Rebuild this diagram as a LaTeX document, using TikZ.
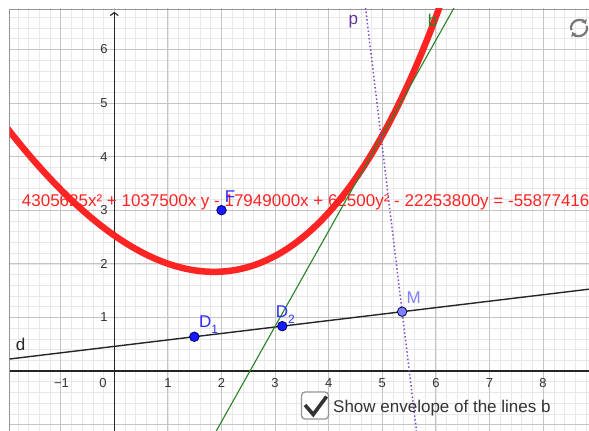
\documentclass[tikz,border=0pt]{standalone}
\usepackage{fontspec}
\setmainfont{Liberation Sans}
\usetikzlibrary{calc,arrows.meta}
\definecolor{gmajor}{RGB}{196,196,196}
\definecolor{gminor}{RGB}{232,232,232}
\definecolor{axiscol}{RGB}{37,37,37}
\definecolor{conred}{RGB}{255,36,36}
\definecolor{bgreen}{RGB}{40,130,40}
\definecolor{ppurple}{RGB}{125,70,200}
\definecolor{plabel}{RGB}{102,51,153}
\definecolor{ptblue}{RGB}{25,25,255}
\definecolor{ptlabel}{RGB}{45,45,255}
\definecolor{mfill}{RGB}{128,128,255}
\definecolor{textgray}{RGB}{51,51,51}
\definecolor{framecol}{RGB}{150,150,150}
\definecolor{iconcol}{RGB}{120,120,120}
\pgfdeclarelayer{gridlayer}
\pgfdeclarelayer{linelayer}
\pgfsetlayers{gridlayer,linelayer,main}
\begin{document}
\begin{tikzpicture}[x=53.6pt,y=53.6pt,
  ticklab/.style={font=\fontsize{13}{13}\selectfont, text=textgray, inner sep=0pt},
  lab/.style={font=\fontsize{17}{17}\selectfont, inner sep=0pt},
  axisline/.style={draw=axiscol, line width=1.1pt},
  dline/.style={draw=black!85, line width=1.4pt},
  bline/.style={draw=bgreen, line width=1.1pt},
  pline/.style={draw=ppurple, line width=1.5pt, dash pattern=on 1.4pt off 2.4pt},
  conic/.style={draw=conred, line width=6.5pt},
  dotpt/.style={circle, fill=ptblue, draw=blue!40!black, line width=0.8pt, minimum size=9.5pt, inner sep=0pt},
  mpt/.style={circle, fill=mfill, draw=blue!30!black, line width=0.8pt, minimum size=9.5pt, inner sep=0pt},
  checkbox/.style={draw=framecol, line width=1.3pt, rounded corners=3.5pt, fill=white, minimum width=27pt, minimum height=27pt, inner sep=0pt},
  checkmark/.style={draw=textgray, line width=3.6pt},
  refresh/.style={draw=iconcol, line width=2.2pt}
]
\useasboundingbox (-2.1325,-1.1194) rectangle (8.8563,6.9216);

% points (nodes) and their labels
\node[dotpt] (F) at (2,3) {};
\node[dotpt] (D1) at (1.493,0.63916) {};
\node[dotpt] (D2) at (3.134,0.83687) {};
\node[mpt] (M) at (5.37,1.10627) {};
\coordinate (Mid) at ($(F)!0.5!(M)$);
\coordinate (bLow) at ($(Mid)!3!90:(M)$);
\coordinate (bHigh) at ($(Mid)!3!-90:(M)$);
\coordinate (pHigh) at ($(M)!340pt!-90:(D1)$);
\coordinate (pLow) at ($(M)!140pt!90:(D1)$);
\coordinate (dLeft) at ($(D1)!-1!(M)$);
\coordinate (dRight) at ($(D1)!2!(M)$);

\node[lab, text=ptlabel] (Flab) at (2.159,3.252) {F};
\node[lab, text=ptlabel, anchor=base west] (D1lab) at (1.580,0.804) {D\raisebox{-6pt}{\fontsize{12}{12}\selectfont 1}};
\node[lab, text=ptlabel, anchor=base west] (D2lab) at (3.009,0.993) {D\raisebox{-6pt}{\fontsize{12}{12}\selectfont 2}};
\node[lab, text=mfill] (Mlab) at (5.584,1.368) {M};
\node[lab, text=plabel] (plab) at (4.459,6.517) {p};
\node[lab, text=bgreen] (blab) at (5.940,6.535) {b};
\node[lab, text=black!85] (dlab) at (-1.746,0.504) {d};

% checkbox
\node[checkbox] (chk) at (3.745,-0.644) {};
\draw[checkmark] ($(chk.center)+(-10pt,0.5pt)$) -- ($(chk.center)+(-1.8pt,-9pt)$) -- ($(chk.center)+(11.5pt,9pt)$);
\node[anchor=base west, inner sep=0pt, font=\fontsize{17}{17}\selectfont, text=textgray] (chklab) at (4.080,-0.771) {Show envelope of the lines b};

% refresh icon
\coordinate (R) at (8.670,6.399);
\draw[refresh, -{Triangle[length=4pt,width=6pt]}] ($(R)+(195:0.15)$) arc (195:30:0.15);
\draw[refresh, -{Triangle[length=4pt,width=6pt]}] ($(R)+(15:0.15)$) arc (15:-150:0.15);

\begin{pgfonlayer}{gridlayer}
\fill[white] (-2.1325,-1.1194) rectangle (8.8563,6.9216);
\begin{scope}
\clip (-1.955,-1.1194) rectangle (8.8563,6.7537);
\draw[gminor, line width=0.6pt, step=0.2] (-2.2,-1.2) grid (9,6.8);
\draw[gmajor, line width=0.9pt, step=1] (-3,-2) grid (9,7);
\draw[axisline] (-1.955,0) -- (8.8563,0);
\draw[axisline, -{Straight Barb[length=3pt,width=8pt]}] (0,-1.1194) -- (0,6.70);
\end{scope}
\draw[framecol, line width=0.8pt] (-1.955,-1.1194) -- (-1.955,6.7537) -- (8.8563,6.7537);
\foreach \yy in {1,...,6} {\node[ticklab] (yl\yy) at (-0.192,\yy) {\yy};}
\foreach \xx in {1,...,8} {\node[ticklab] (xl\xx) at (\xx,-0.224) {\xx};}
\node[ticklab] (xlm1) at (-0.985,-0.224) {−1};
\node[ticklab] (xl0) at (-0.21,-0.224) {0};
\node[anchor=base west, inner sep=0pt, font=\fontsize{17}{17}\selectfont, text=conred] (eq) at (-1.7276,3.06) {4305625x² + 1037500x y - 17949000x + 62500y² - 22253800y = -55877416};
\end{pgfonlayer}

\begin{pgfonlayer}{linelayer}
\begin{scope}
\clip (-1.955,-1.1194) rectangle (8.8563,6.7537);
\draw[dline] (dLeft) -- (dRight);
\draw[conic] plot[domain=-4.4:4.8, samples=220, variable=\s] ({2.136558+0.992821*\s-0.026195*\s*\s},{1.866571+0.119617*\s+0.217414*\s*\s});
\draw[bline] (bLow) -- (bHigh);
\draw[pline] (pLow) -- (pHigh);
\end{scope}
\end{pgfonlayer}
\end{tikzpicture}
\end{document}
